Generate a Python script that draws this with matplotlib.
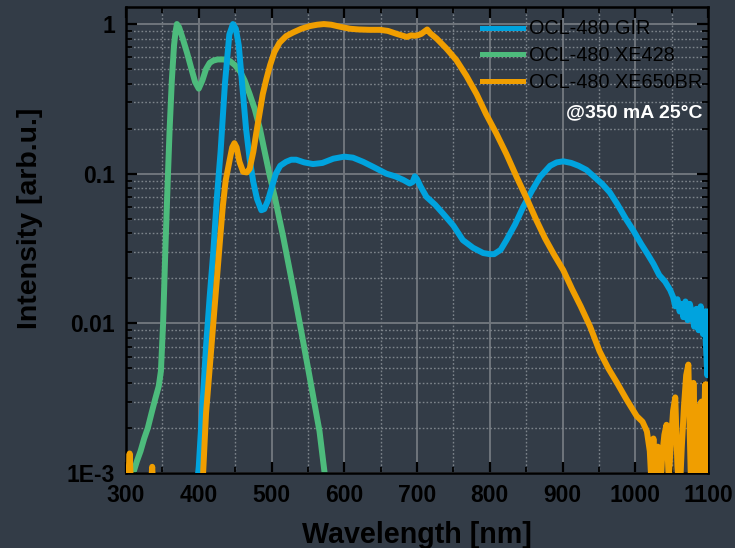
import matplotlib
matplotlib.use("Agg")
import matplotlib.pyplot as plt
from matplotlib.ticker import FixedLocator, FixedFormatter, LogLocator, NullFormatter

plt.rcParams['font.family'] = ['Liberation Sans', 'DejaVu Sans']

# ---------------- data ----------------
wl_gir = [396, 400, 405, 410, 415, 420, 425, 430, 436, 442, 447, 451, 455, 460, 465, 470,
          475, 480, 486, 490, 495, 500, 506, 512, 520, 527, 534, 545, 557, 570, 585, 600,
          612, 626, 640, 658, 670, 681, 690, 694, 697, 700, 705, 713, 725, 736, 750, 763,
          777, 791, 800, 806, 815, 823, 835, 846, 858, 869, 883, 892, 901, 912, 922, 933,
          945, 955, 965, 975, 987, 997, 1008, 1017, 1025, 1033, 1041, 1048, 1052, 1055,
          1058, 1061, 1064, 1066, 1069, 1072, 1075, 1078, 1081, 1084, 1087, 1090, 1093,
          1095, 1097, 1099, 1100]
int_gir = [0.0007, 0.0011, 0.0028, 0.007, 0.015, 0.03, 0.07, 0.14, 0.40, 0.85, 1.0, 0.93,
           0.72, 0.38, 0.2, 0.125, 0.088, 0.068, 0.057, 0.058, 0.066, 0.08, 0.1, 0.113,
           0.12, 0.124, 0.124, 0.119, 0.116, 0.118, 0.126, 0.13, 0.128, 0.12, 0.111, 0.1,
           0.096, 0.091, 0.086, 0.088, 0.096, 0.092, 0.082, 0.07, 0.062, 0.054, 0.045,
           0.036, 0.032, 0.0295, 0.029, 0.029, 0.031, 0.036, 0.046, 0.06, 0.077, 0.095,
           0.113, 0.119, 0.121, 0.118, 0.113, 0.106, 0.094, 0.085, 0.075, 0.063, 0.05,
           0.042, 0.034, 0.029, 0.025, 0.021, 0.019, 0.0167, 0.015, 0.013, 0.0145, 0.012,
           0.0135, 0.011, 0.014, 0.0105, 0.0135, 0.0115, 0.0095, 0.0125, 0.009, 0.013,
           0.0085, 0.012, 0.0075, 0.0045, 0.012]

wl_xe428 = [300, 305, 310, 315, 320, 325, 330, 335, 340, 345, 348, 351, 354, 357, 360, 363,
            366, 368, 370, 373, 378, 384, 390, 395, 400, 405, 410, 415, 420, 426, 434, 443,
            450, 457, 463, 470, 477, 484, 490, 497, 505, 516, 530, 541, 552, 566, 573, 578]
int_xe428 = [0.0005, 0.0008, 0.001, 0.0012, 0.0014, 0.0017, 0.002, 0.0025, 0.0031, 0.0038,
             0.0048, 0.01, 0.03, 0.08, 0.2, 0.42, 0.72, 0.88, 1.0, 0.95, 0.8, 0.64, 0.5,
             0.41, 0.37, 0.42, 0.5, 0.55, 0.57, 0.58, 0.58, 0.565, 0.53, 0.48, 0.42, 0.34,
             0.27, 0.2, 0.145, 0.1, 0.068, 0.038, 0.017, 0.0088, 0.0045, 0.0019, 0.001,
             0.0007]

wl_xe650 = [300, 303, 305, 307, 310, 314, 316, 320, 330, 334, 336, 338, 342, 360, 380, 400,
            406, 410, 415, 420, 425, 429, 433, 437, 442, 446, 449, 452, 456, 461, 466, 470,
            475, 479, 484, 488, 493, 498, 504, 511, 520, 530, 541, 553, 563, 572, 582, 594,
            608, 620, 635, 649, 660, 672, 686, 692, 697, 702, 706, 710, 714, 718, 727, 740,
            754, 768, 782, 795, 809, 823, 837, 851, 864, 876, 888, 901, 913, 925, 938, 951,
            963, 975, 988, 1002, 1010, 1016, 1020, 1022, 1025, 1028, 1031, 1034, 1037, 1040,
            1043, 1046, 1049, 1052, 1055, 1058, 1061, 1064, 1067, 1070, 1073, 1075, 1077,
            1080, 1082, 1085, 1088, 1091, 1093, 1096, 1098, 1100]
int_xe650 = [0.0005, 0.0009, 0.00135, 0.0008, 0.0005, 0.0009, 0.0006, 0.0005, 0.0005,
             0.0008, 0.0011, 0.0007, 0.0005, 0.0004, 0.0004, 0.0004, 0.001, 0.0025, 0.005,
             0.01, 0.02, 0.035, 0.06, 0.09, 0.12, 0.15, 0.16, 0.15, 0.12, 0.103, 0.102,
             0.108, 0.14, 0.186, 0.26, 0.34, 0.43, 0.53, 0.65, 0.75, 0.83, 0.88, 0.93, 0.97,
             0.99, 1.0, 0.99, 0.96, 0.93, 0.92, 0.915, 0.915, 0.9, 0.86, 0.82, 0.84, 0.835,
             0.845, 0.86, 0.89, 0.92, 0.87, 0.8, 0.69, 0.575, 0.45, 0.34, 0.25, 0.186,
             0.135, 0.095, 0.068, 0.049, 0.037, 0.029, 0.0227, 0.017, 0.013, 0.0095,
             0.0065, 0.005, 0.004, 0.0031, 0.0024, 0.0022, 0.0019, 0.0014, 0.0009, 0.0017,
             0.0008, 0.0015, 0.0007, 0.0013, 0.0018, 0.0021, 0.0009, 0.0016, 0.0026, 0.0032,
             0.0011, 0.0007, 0.0015, 0.0028, 0.0045, 0.0053, 0.0018, 0.0007, 0.004, 0.0017,
             0.0008, 0.0028, 0.003, 0.0009, 0.0039, 0.0007, 0.0039]

series_labels = ['OCL-480 GIR', 'OCL-480 XE428', 'OCL-480 XE650BR']
x_ticks = [300, 400, 500, 600, 700, 800, 900, 1000, 1100]
y_ticks = [1e-3, 1e-2, 1e-1, 1]
y_tick_labels = ['1E-3', '0.01', '0.1', '1']
note = '@350 mA 25°C'

# ---------------- styling ----------------
BG = '#333c47'
C_BLUE = '#00a3de'
C_GREEN = '#4dbb7c'
C_ORANGE = '#f09e00'

fig = plt.figure(figsize=(7.35, 5.48), dpi=100, facecolor=BG)
ax = fig.add_axes([126/735, 1-473/548, (708-126)/735, (473-7)/548])
ax.set_facecolor(BG)

lw = 4.3
l1, = ax.plot(wl_gir, int_gir, color=C_BLUE, lw=lw, zorder=3, solid_joinstyle='round')
l2, = ax.plot(wl_xe428, int_xe428, color=C_GREEN, lw=lw, zorder=2, solid_joinstyle='round')
l3, = ax.plot(wl_xe650, int_xe650, color=C_ORANGE, lw=lw, zorder=4, solid_joinstyle='round')

ax.set_yscale('log')
ax.set_xlim(300, 1100)
ax.set_ylim(1e-3, 1.3)

ax.xaxis.set_major_locator(FixedLocator(x_ticks))
ax.xaxis.set_major_formatter(FixedFormatter([str(v) for v in x_ticks]))
ax.xaxis.set_minor_locator(FixedLocator(list(range(350, 1100, 100))))
ax.yaxis.set_major_locator(FixedLocator(y_ticks))
ax.yaxis.set_major_formatter(FixedFormatter(y_tick_labels))
ax.yaxis.set_minor_locator(LogLocator(base=10, subs=range(2, 10)))
ax.yaxis.set_minor_formatter(NullFormatter())

ax.grid(True, which='major', color='#6f757c', lw=1.4, ls='-', zorder=0)
ax.grid(True, which='minor', color='#7d848b', lw=1.0, ls=(0, (1.2, 1.5)), zorder=0)
ax.set_axisbelow(True)

for s in ax.spines.values():
    s.set_color('black')
    s.set_linewidth(1.8)

ax.tick_params(which='major', direction='in', length=8, width=1.6, color='black',
               top=True, right=True, labelsize=16.5, labelcolor='black', pad=8)
ax.tick_params(which='minor', direction='in', length=4, width=1.3, color='black',
               top=True, right=True)
for t in ax.get_xticklabels() + ax.get_yticklabels():
    t.set_fontweight('bold')

ax.set_xlabel('Wavelength [nm]', fontsize=20.6, fontweight='bold', color='black')
ax.set_ylabel('Intensity [arb.u.]', fontsize=20.5, fontweight='bold', color='black')
ax.xaxis.set_label_coords(0.5, -0.103)
ax.yaxis.set_label_coords(-0.143, 0.547)

leg = ax.legend([l1, l2, l3], series_labels, loc='upper left',
                bbox_to_anchor=((482-126)/582, 1 - (19.5-7)/466),
                frameon=False, fontsize=14.3, handlelength=2.05, handletextpad=0.3,
                labelspacing=0.38, borderaxespad=0, borderpad=0)
for t in leg.get_texts():
    t.set_color('black')
    t.set_clip_box(ax.bbox)
    t.set_clip_on(True)
for h in leg.get_lines():
    h.set_linewidth(3.6)

ax.text((703-126)/582, (473-113)/466, note, transform=ax.transAxes, color='white',
        fontsize=14, fontweight='bold', ha='right', va='center', zorder=6)

fig.savefig('out.png', dpi=100, facecolor=BG)
